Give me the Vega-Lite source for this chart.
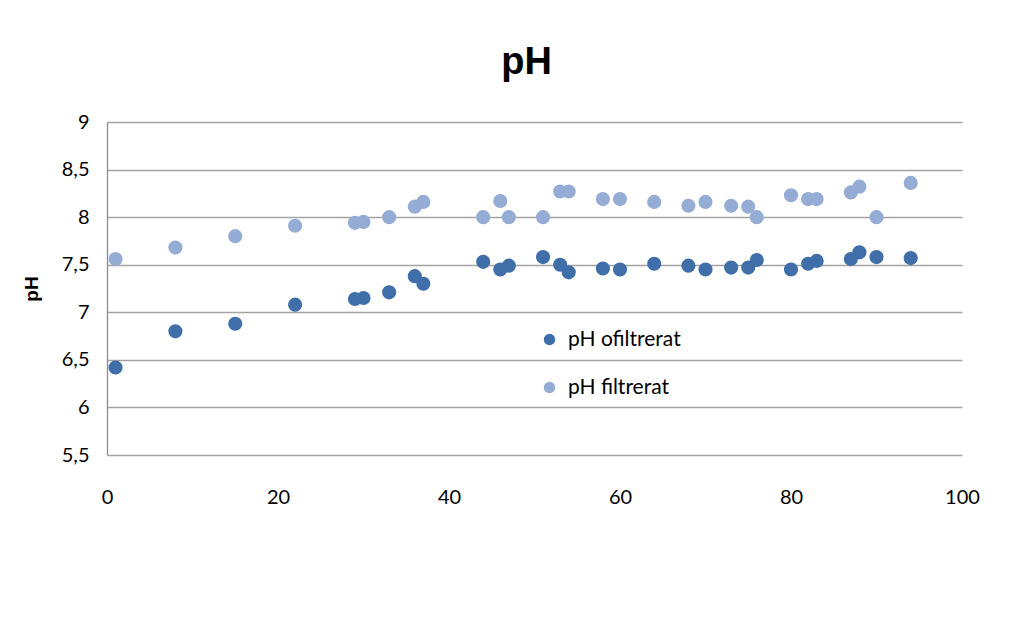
{
  "$schema": "https://vega.github.io/schema/vega-lite/v6.json",
  "width": 855,
  "height": 333,
  "autosize": {"type": "none"},
  "padding": {"left": 107, "top": 122, "right": 66, "bottom": 162},
  "background": "white",
  "title": {
    "text": "pH",
    "font": "Liberation Sans",
    "fontSize": 38,
    "fontWeight": "bold",
    "color": "#000000",
    "anchor": "middle",
    "dx": -8,
    "offset": 30
  },
  "data": {
    "values": [
      {"tid": 1, "pH": 6.42, "serie": "pH ofiltrerat"},
      {"tid": 8, "pH": 6.8, "serie": "pH ofiltrerat"},
      {"tid": 15, "pH": 6.88, "serie": "pH ofiltrerat"},
      {"tid": 22, "pH": 7.08, "serie": "pH ofiltrerat"},
      {"tid": 29, "pH": 7.14, "serie": "pH ofiltrerat"},
      {"tid": 30, "pH": 7.15, "serie": "pH ofiltrerat"},
      {"tid": 33, "pH": 7.21, "serie": "pH ofiltrerat"},
      {"tid": 36, "pH": 7.38, "serie": "pH ofiltrerat"},
      {"tid": 37, "pH": 7.3, "serie": "pH ofiltrerat"},
      {"tid": 44, "pH": 7.53, "serie": "pH ofiltrerat"},
      {"tid": 46, "pH": 7.45, "serie": "pH ofiltrerat"},
      {"tid": 47, "pH": 7.49, "serie": "pH ofiltrerat"},
      {"tid": 51, "pH": 7.58, "serie": "pH ofiltrerat"},
      {"tid": 53, "pH": 7.5, "serie": "pH ofiltrerat"},
      {"tid": 54, "pH": 7.42, "serie": "pH ofiltrerat"},
      {"tid": 58, "pH": 7.46, "serie": "pH ofiltrerat"},
      {"tid": 60, "pH": 7.45, "serie": "pH ofiltrerat"},
      {"tid": 64, "pH": 7.51, "serie": "pH ofiltrerat"},
      {"tid": 68, "pH": 7.49, "serie": "pH ofiltrerat"},
      {"tid": 70, "pH": 7.45, "serie": "pH ofiltrerat"},
      {"tid": 73, "pH": 7.47, "serie": "pH ofiltrerat"},
      {"tid": 75, "pH": 7.47, "serie": "pH ofiltrerat"},
      {"tid": 76, "pH": 7.55, "serie": "pH ofiltrerat"},
      {"tid": 80, "pH": 7.45, "serie": "pH ofiltrerat"},
      {"tid": 82, "pH": 7.51, "serie": "pH ofiltrerat"},
      {"tid": 83, "pH": 7.54, "serie": "pH ofiltrerat"},
      {"tid": 87, "pH": 7.56, "serie": "pH ofiltrerat"},
      {"tid": 88, "pH": 7.63, "serie": "pH ofiltrerat"},
      {"tid": 90, "pH": 7.58, "serie": "pH ofiltrerat"},
      {"tid": 94, "pH": 7.57, "serie": "pH ofiltrerat"},
      {"tid": 1, "pH": 7.56, "serie": "pH filtrerat"},
      {"tid": 8, "pH": 7.68, "serie": "pH filtrerat"},
      {"tid": 15, "pH": 7.8, "serie": "pH filtrerat"},
      {"tid": 22, "pH": 7.91, "serie": "pH filtrerat"},
      {"tid": 29, "pH": 7.94, "serie": "pH filtrerat"},
      {"tid": 30, "pH": 7.95, "serie": "pH filtrerat"},
      {"tid": 33, "pH": 8.0, "serie": "pH filtrerat"},
      {"tid": 36, "pH": 8.11, "serie": "pH filtrerat"},
      {"tid": 37, "pH": 8.16, "serie": "pH filtrerat"},
      {"tid": 44, "pH": 8.0, "serie": "pH filtrerat"},
      {"tid": 46, "pH": 8.17, "serie": "pH filtrerat"},
      {"tid": 47, "pH": 8.0, "serie": "pH filtrerat"},
      {"tid": 51, "pH": 8.0, "serie": "pH filtrerat"},
      {"tid": 53, "pH": 8.27, "serie": "pH filtrerat"},
      {"tid": 54, "pH": 8.27, "serie": "pH filtrerat"},
      {"tid": 58, "pH": 8.19, "serie": "pH filtrerat"},
      {"tid": 60, "pH": 8.19, "serie": "pH filtrerat"},
      {"tid": 64, "pH": 8.16, "serie": "pH filtrerat"},
      {"tid": 68, "pH": 8.12, "serie": "pH filtrerat"},
      {"tid": 70, "pH": 8.16, "serie": "pH filtrerat"},
      {"tid": 73, "pH": 8.12, "serie": "pH filtrerat"},
      {"tid": 75, "pH": 8.11, "serie": "pH filtrerat"},
      {"tid": 76, "pH": 8.0, "serie": "pH filtrerat"},
      {"tid": 80, "pH": 8.23, "serie": "pH filtrerat"},
      {"tid": 82, "pH": 8.19, "serie": "pH filtrerat"},
      {"tid": 83, "pH": 8.19, "serie": "pH filtrerat"},
      {"tid": 87, "pH": 8.26, "serie": "pH filtrerat"},
      {"tid": 88, "pH": 8.32, "serie": "pH filtrerat"},
      {"tid": 90, "pH": 8.0, "serie": "pH filtrerat"},
      {"tid": 94, "pH": 8.36, "serie": "pH filtrerat"}
    ]
  },
  "mark": {"type": "circle", "size": 200, "opacity": 1},
  "encoding": {
    "x": {
      "field": "tid",
      "type": "quantitative",
      "scale": {"domain": [0, 100], "nice": false, "zero": false},
      "axis": {
        "title": null,
        "values": [0, 20, 40, 60, 80, 100],
        "grid": false,
        "domain": false,
        "ticks": false,
        "labelFont": "Lato",
        "labelFontSize": 20,
        "labelColor": "#000000",
        "labelPadding": 32,
        "labelFlush": false
      }
    },
    "y": {
      "field": "pH",
      "type": "quantitative",
      "scale": {"domain": [5.5, 9], "nice": false, "zero": false},
      "axis": {
        "title": "pH",
        "titleFont": "Liberation Sans",
        "titleFontSize": 19,
        "titleFontWeight": "bold",
        "titleColor": "#000000",
        "titlePadding": 20,
        "values": [5.5, 6, 6.5, 7, 7.5, 8, 8.5, 9],
        "labelExpr": "replace(format(datum.value, '.1~f'), '.', ',')",
        "grid": true,
        "gridColor": "#a3a3a3",
        "gridWidth": 1.3,
        "domain": true,
        "domainColor": "#8c8c8c",
        "domainWidth": 1.3,
        "ticks": false,
        "labelFont": "Lato",
        "labelFontSize": 20,
        "labelColor": "#000000",
        "labelPadding": 18,
        "labelFlush": false
      }
    },
    "color": {
      "field": "serie",
      "type": "nominal",
      "scale": {
        "domain": ["pH ofiltrerat", "pH filtrerat"],
        "range": ["#3f6ea8", "#95acd4"]
      },
      "legend": {
        "title": null,
        "orient": "none",
        "legendX": 432,
        "legendY": 207,
        "symbolType": "circle",
        "symbolSize": 130,
        "symbolOpacity": 1,
        "labelFont": "Lato",
        "labelFontSize": 21,
        "labelColor": "#000000",
        "labelOffset": 8,
        "rowPadding": 26
      }
    }
  },
  "config": {
    "view": {"stroke": null}
  }
}
